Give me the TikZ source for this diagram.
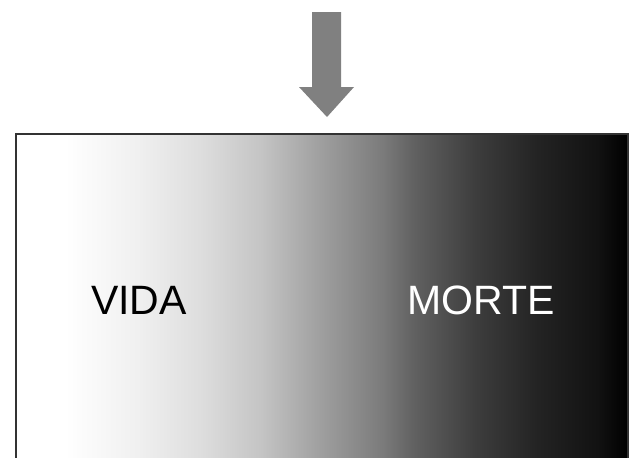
\documentclass[tikz,border=0pt]{standalone}
\usepackage{fontspec}
\setmainfont{Liberation Sans}
\pgfdeclarehorizontalshading{lifedeath}{100bp}{
  color(0bp)=(white);
  color(29bp)=(white);
  color(35bp)=(black!6);
  color(40bp)=(black!13);
  color(45bp)=(black!23);
  color(50bp)=(black!38);
  color(55bp)=(black!52);
  color(57.5bp)=(black!62);
  color(62.5bp)=(black!76);
  color(67.5bp)=(black!86);
  color(72.5bp)=(black!93);
  color(75bp)=(black);
  color(100bp)=(black)}
\begin{document}
\begin{tikzpicture}[x=1pt,y=-1pt,
  arrowfill/.style={fill=black!50, draw=none},
  frame/.style={draw=black!80, line width=2pt},
  label/.style={font=\fontsize{41}{41}\selectfont, inner sep=0pt}]
\useasboundingbox (0,0) rectangle (630,458);
% gradient panel
\shade[shading=lifedeath] (16,134) rectangle (628,458);
\draw[frame] (16,460) -- (16,134) -- (628,134) -- (628,460);
% arrow
\fill[arrowfill] (312,12) -- (341,12) -- (341,87) -- (354,87) -- (327,117) -- (299,87) -- (312,87) -- cycle;
% labels
\node[label, text=black] (vida) at (139,300) {VIDA};
\node[label, text=white] (morte) at (481,300) {MORTE};
\end{tikzpicture}
\end{document}
